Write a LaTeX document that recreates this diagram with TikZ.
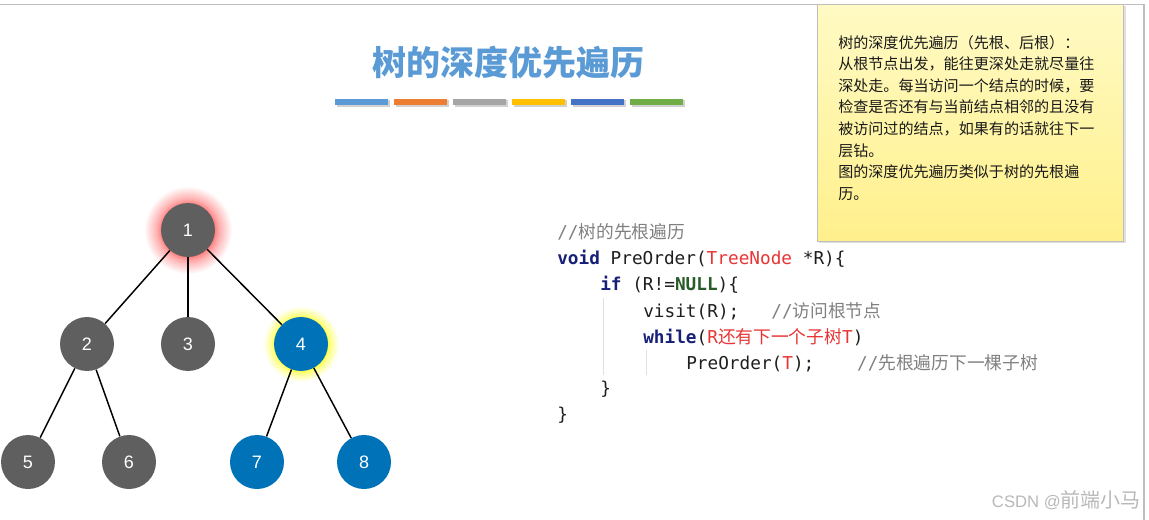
\documentclass[tikz,border=0pt]{standalone}
\usepackage{fontspec}
\setmainfont{Liberation Sans}
\setmonofont{DejaVu Sans Mono}
\newfontfamily\cjk{Noto Sans CJK SC}
\usetikzlibrary{positioning}
\definecolor{nodegray}{RGB}{95,95,95}
\definecolor{nodeblue}{RGB}{0,114,184}
\definecolor{titleblue}{RGB}{91,155,213}
\definecolor{barorange}{RGB}{237,125,49}
\definecolor{bargray}{RGB}{165,165,165}
\definecolor{bargold}{RGB}{255,192,0}
\definecolor{bardblue}{RGB}{68,114,196}
\definecolor{bargreen}{RGB}{112,173,71}
\definecolor{notetop}{RGB}{255,250,196}
\definecolor{notebot}{RGB}{255,240,140}
\definecolor{kwnavy}{RGB}{22,32,120}
\definecolor{kwgreen}{RGB}{40,92,40}
\definecolor{codered}{RGB}{232,52,52}
\definecolor{comgray}{RGB}{128,128,128}
\definecolor{codeblk}{RGB}{30,30,30}
\definecolor{framegray}{RGB}{190,190,190}
\pgfdeclareradialshading{glowred}{\pgfpoint{0bp}{0bp}}{color(0bp)=(red!50); color(15bp)=(red!50); color(18bp)=(red!30); color(25bp)=(white); color(50bp)=(white)}
\pgfdeclareradialshading{glowyellow}{\pgfpoint{0bp}{0bp}}{color(0bp)=(yellow!75); color(17bp)=(yellow!75); color(20bp)=(yellow!40); color(25bp)=(white); color(50bp)=(white)}
\newcommand{\kw}[1]{\textcolor{kwnavy}{\bfseries #1}}
\newcommand{\cm}[1]{\textcolor{comgray}{//{\cjk #1}}}

\begin{document}
\begin{tikzpicture}[x=0.75pt,y=-0.75pt,
  treenode/.style={circle,minimum size=40.5pt,inner sep=0pt,text=white,
                   font=\fontsize{13.5}{13.5}\selectfont},
  grayn/.style={treenode,fill=nodegray},
  bluen/.style={treenode,fill=nodeblue},
  edge/.style={draw=black,line width=1.1pt},
  codeline/.style={anchor=base west,inner sep=0pt,text=codeblk,
                   font=\ttfamily\fontsize{13.3}{13.3}\selectfont},
  colorbar/.style={minimum width=39.5pt,minimum height=4.5pt,inner sep=0pt}
]
\useasboundingbox (0,0) rectangle (1149,520);
% frame lines
\draw[framegray,line width=1.2pt] (0,4.5) -- (1144,4.5) -- (1144,520);

% title and colour bars
\node[text=titleblue,font=\cjk\bfseries\fontsize{25.5}{25.5}\selectfont] (title) at (508,63) {树的深度优先遍历};
\foreach \c [count=\i from 0] in {titleblue,barorange,bargray,bargold,bardblue,bargreen}{
  \fill[black,opacity=0.18] (336.5+59*\i,100.5) rectangle (390+59*\i,107.5);
  \node[colorbar,fill=\c] (bar\i) at (361.5+59*\i,102) {};
}

% sticky note
\fill[black,opacity=0.12] (819,6) rectangle (1125.5,243.5);
\shade[top color=notetop,bottom color=notebot,draw=framegray,line width=0.5pt] (817,4.5) rectangle (1123,241);
\node[anchor=north west,inner sep=0pt,align=left,text=black!90,
      font=\cjk\fontsize{11.3}{16.2}\selectfont] (note) at (838,35) {树的深度优先遍历（先根、后根）：\\
从根节点出发，能往更深处走就尽量往\\
深处走。每当访问一个结点的时候，要\\
检查是否还有与当前结点相邻的且没有\\
被访问过的结点，如果有的话就往下一\\
层钻。\\
图的深度优先遍历类似于树的先根遍\\
历。};

% tree: glows first
\shade[shading=glowred] (188,230) circle (44);
\shade[shading=glowyellow] (301,344) circle (38);
\node[grayn] (n1) at (188,230) {1};
\node[grayn] (n2) at (87,344) {2};
\node[grayn] (n3) at (188,344) {3};
\node[bluen] (n4) at (301,344) {4};
\node[grayn] (n5) at (28,462) {5};
\node[grayn] (n6) at (129,462) {6};
\node[bluen] (n7) at (257,462) {7};
\node[bluen] (n8) at (364,462) {8};
\foreach \a/\b in {n1/n2,n1/n3,n1/n4,n2/n5,n2/n6,n4/n7,n4/n8}
  \draw[edge] (\a) -- (\b);

% code
\draw[black!12,line width=0.6pt] (603,298) -- (603,375);
\draw[black!12,line width=0.6pt] (646,350) -- (646,375);
\node[codeline] (c1) at (557,239) {\cm{树的先根遍历}};
\node[codeline] (c2) at (557,265) {\kw{void} PreOrder(\textcolor{codered}{TreeNode} *R)\{};
\node[codeline] (c3) at (600,291) {\kw{if} (R!=\textcolor{kwgreen}{\bfseries NULL})\{};
\node[codeline] (c4) at (643,317) {visit(R);\ \ \ \cm{访问根节点}};
\node[codeline] (c5) at (643,343) {\kw{while}(\textcolor{codered}{R{\cjk 还有下一个子树}T})};
\node[codeline] (c6) at (686,369) {PreOrder(\textcolor{codered}{T});\ \ \ \ \cm{先根遍历下一棵子树}};
\node[codeline] (c7) at (600,394) {\}};
\node[codeline] (c8) at (557,420) {\}};

% watermark
\node[anchor=east,inner sep=0pt,text=black!28,font=\fontsize{12.5}{12.5}\selectfont] (mark) at (1141,500) {CSDN @{\cjk\fontsize{15}{15}\selectfont 前端小马}};
\end{tikzpicture}
\end{document}
